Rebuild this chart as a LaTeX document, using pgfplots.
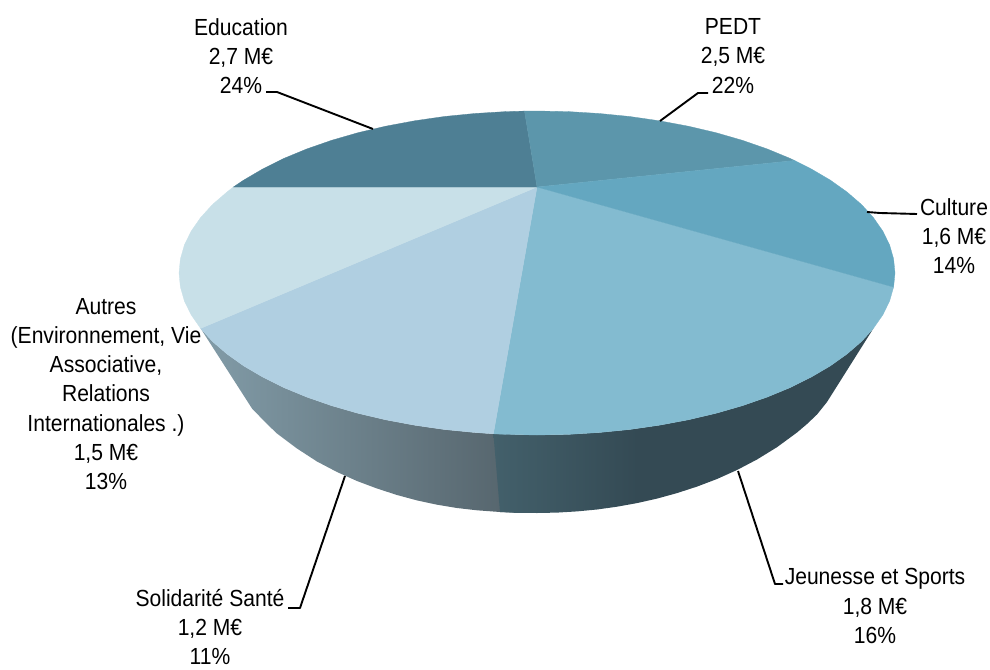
\documentclass[border=0pt]{standalone}
\usepackage{pgfplots}
\pgfplotsset{compat=1.18}
\usepackage{fontspec}
\setmainfont[FakeStretch=0.905]{Liberation Sans}

\definecolor{cEdu}{HTML}{4E7F94}
\definecolor{cPedt}{HTML}{5C96AB}
\definecolor{cCult}{HTML}{64A7C0}
\definecolor{cJeun}{HTML}{83BBD0}
\definecolor{cSoli}{HTML}{B0CFE1}
\definecolor{cAutr}{HTML}{C8E0E8}
\definecolor{sideA}{HTML}{829CA8}
\definecolor{sideB}{HTML}{55646C}
\definecolor{sideC}{HTML}{43606B}
\definecolor{sideD}{HTML}{344A54}

\pgfdeclarehorizontalshading{rightwall}{100bp}{color(0bp)=(sideC); color(25bp)=(sideC); color(44bp)=(sideD); color(100bp)=(sideD)}

\tikzset{lbl/.style={align=center,inner sep=0pt,font=\fontsize{23.3}{29.3}\selectfont},
  slice/.style={fill=#1,draw=#1,line width=0.3pt},
  leader/.style={black,line width=1.9pt,line join=round}}

\begin{document}
\begin{tikzpicture}
\begin{axis}[
  width=990pt, height=669pt, scale only axis,
  xmin=0, xmax=990, ymin=0, ymax=669, y dir=reverse,
  hide axis, clip=false
]
% frame, keeps the page at full size
\addplot[draw=none,forget plot] coordinates {(0,0)(990,669)};

% side wall, left slice (runs on under the right one)
\addplot[draw=none,left color=sideA,right color=sideB] coordinates {
  (200.6,328.4)(212.5,341.5)(227,354)(243.7,365.9)(262.8,377.1)(283.9,387.6)(306.9,397.1)
  (331.7,405.7)(358,413.3)(385.7,419.8)(414.6,425.2)(444.3,429.5)(474.8,432.5)(493.4,433.8)
  (515,434.4)(515,512.6)(500,512)(477,510.3)(457,508)(437,504.7)(417,500.4)(397,495)(377,488.5)
  (357,481)(337,472)(317,461.5)(297,448.5)(277,433.5)(267,424)(252,408.5)
} -- cycle;
% side wall, right slice
\addplot[draw=none,shading=rightwall] coordinates {
  (493.4,433.8)(505.8,434.4)(537,435)(568.2,434.4)(599.2,432.5)(629.7,429.5)(659.4,425.2)
  (688.3,419.8)(716,413.3)(742.3,405.7)(767.1,397.1)(790.1,387.6)(811.2,377.1)(830.3,365.9)
  (847,354)(861.5,341.5)(873.4,328.4)
  (827,402)(817,414.5)(807,424)(797,432.5)(777,447.2)(757,459.5)(737,470)(717,479)(697,486.6)
  (677,493.1)(657,498.6)(637,503.1)(617,506.7)(597,509.5)(577,511.4)(557,512.6)(537,513)(515,512.8)(500,512)
} -- cycle;

% Jeunesse et Sports
\addplot[slice=cJeun] coordinates {
  (537,187)(893.6,287.1)(889.6,301.1)(882.8,314.9)(873.4,328.4)(861.5,341.5)(847,354)
  (830.3,365.9)(811.2,377.1)(790.1,387.6)(767.1,397.1)(742.3,405.7)(716,413.3)(688.3,419.8)
  (659.4,425.2)(629.7,429.5)(599.2,432.5)(568.2,434.4)(537,435)(505.8,434.4)(493.4,433.8)
} -- cycle;
% Solidarite Sante
\addplot[slice=cSoli] coordinates {
  (537,187)(493.4,433.8)(474.8,432.5)(444.3,429.5)(414.6,425.2)(385.7,419.8)(358,413.3)
  (331.7,405.7)(306.9,397.1)(283.9,387.6)(262.8,377.1)(243.7,365.9)(227,354)(212.5,341.5)
  (200.6,328.4)
} -- cycle;
% Autres
\addplot[slice=cAutr] coordinates {
  (537,187)(200.6,328.4)(191.2,314.9)(184.4,301.1)(180.4,287.1)(179,273)(180.4,258.9)
  (184.4,244.9)(191.2,231.1)(200.6,217.6)(212.5,204.5)(227,192)(233.4,187)
} -- cycle;
% Education
\addplot[slice=cEdu] coordinates {
  (537,187)(233.4,187)(243.7,180.1)(262.8,168.9)(283.9,158.4)(306.9,148.9)(331.7,140.3)
  (358,132.7)(385.7,126.2)(414.6,120.8)(444.3,116.5)(474.8,113.5)(505.8,111.6)(524.5,111.1)
} -- cycle;
% PEDT
\addplot[slice=cPedt] coordinates {
  (537,187)(524.5,111.1)(537,111)(568.2,111.6)(599.2,113.5)(629.7,116.5)(659.4,120.8)
  (688.3,126.2)(716,132.7)(742.3,140.3)(767.1,148.9)(790.1,158.4)(794.5,160.5)
} -- cycle;
% Culture
\addplot[slice=cCult] coordinates {
  (537,187)(794.5,160.5)(811.2,168.9)(830.3,180.1)(847,192)(861.5,204.5)(873.4,217.6)
  (882.8,231.1)(889.6,244.9)(893.6,258.9)(895,273)(893.6,287.1)
} -- cycle;

% leader lines
\addplot[leader] coordinates {(266,92)(277,92)(373,129)};
\addplot[leader] coordinates {(708,93)(698,93)(660,121)};
\addplot[leader] coordinates {(867,212)(880,213)(917,214)};
\addplot[leader] coordinates {(738,471)(775,584)(783,584)};
\addplot[leader] coordinates {(345,476)(300,608)(288,608)};

% labels
\node[lbl] at (axis cs:241,56) {Education\\2,7 M€\\24\%};
\node[lbl] at (axis cs:733,56) {PEDT\\2,5 M€\\22\%};
\node[lbl] at (axis cs:954,236) {Culture\\1,6 M€\\14\%};
\node[lbl] at (axis cs:875,606) {Jeunesse et Sports\\1,8 M€\\16\%};
\node[lbl] at (axis cs:210,627) {Solidarité Santé\\1,2 M€\\11\%};
\node[lbl] at (axis cs:106,394) {Autres\\(Environnement, Vie\\Associative,\\Relations\\Internationales .)\\1,5 M€\\13\%};
\end{axis}
\end{tikzpicture}
\end{document}
